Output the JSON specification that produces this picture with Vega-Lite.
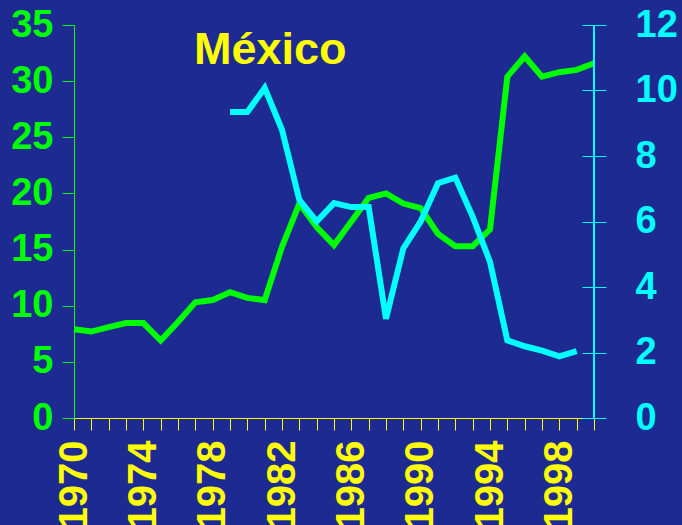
{
  "$schema": "https://vega.github.io/schema/vega-lite/v6.json",
  "width": 520,
  "height": 393,
  "autosize": {"type": "none"},
  "padding": {"left": 74, "top": 25, "right": 88, "bottom": 107},
  "background": "#1d2a92",
  "config": {
    "view": {"stroke": null},
    "font": "Liberation Sans"
  },
  "title": {
    "text": "México",
    "anchor": "start",
    "frame": "group",
    "baseline": "alphabetic",
    "offset": 0,
    "dx": 120,
    "dy": 103,
    "fontSize": 45,
    "fontWeight": "bold",
    "color": "#ffff00",
    "font": "Liberation Sans"
  },
  "data": {
    "values": [
      {"year": 1970, "value1": 7.9, "value2": null},
      {"year": 1971, "value1": 7.7, "value2": null},
      {"year": 1972, "value1": 8.1, "value2": null},
      {"year": 1973, "value1": 8.45, "value2": null},
      {"year": 1974, "value1": 8.45, "value2": null},
      {"year": 1975, "value1": 6.9, "value2": null},
      {"year": 1976, "value1": 8.55, "value2": null},
      {"year": 1977, "value1": 10.3, "value2": null},
      {"year": 1978, "value1": 10.5, "value2": null},
      {"year": 1979, "value1": 11.2, "value2": 9.34},
      {"year": 1980, "value1": 10.7, "value2": 9.34},
      {"year": 1981, "value1": 10.5, "value2": 10.08},
      {"year": 1982, "value1": 15.25, "value2": 8.8},
      {"year": 1983, "value1": 19.1, "value2": 6.66},
      {"year": 1984, "value1": 17.0, "value2": 6.0},
      {"year": 1985, "value1": 15.4, "value2": 6.56},
      {"year": 1986, "value1": 17.5, "value2": 6.44},
      {"year": 1987, "value1": 19.6, "value2": 6.44},
      {"year": 1988, "value1": 20.0, "value2": 3.03},
      {"year": 1989, "value1": 19.1, "value2": 5.18},
      {"year": 1990, "value1": 18.7, "value2": 6.0},
      {"year": 1991, "value1": 16.4, "value2": 7.17},
      {"year": 1992, "value1": 15.3, "value2": 7.34},
      {"year": 1993, "value1": 15.3, "value2": 6.15},
      {"year": 1994, "value1": 16.8, "value2": 4.77},
      {"year": 1995, "value1": 30.4, "value2": 2.37},
      {"year": 1996, "value1": 32.2, "value2": 2.19},
      {"year": 1997, "value1": 30.4, "value2": 2.06},
      {"year": 1998, "value1": 30.8, "value2": 1.88},
      {"year": 1999, "value1": 31.0, "value2": 2.04},
      {"year": 2000, "value1": 31.6, "value2": null}
    ]
  },
  "encoding": {
    "x": {
      "field": "year",
      "type": "quantitative",
      "scale": {"domain": [1970, 2000], "nice": false, "zero": false},
      "axis": {
        "title": null,
        "values": [1970,1971,1972,1973,1974,1975,1976,1977,1978,1979,1980,1981,1982,1983,1984,1985,1986,1987,1988,1989,1990,1991,1992,1993,1994,1995,1996,1997,1998,1999,2000],
        "labelExpr": "(datum.value - 1970) % 4 == 0 && datum.value < 2000 ? datum.value : ''",
        "labelAngle": -90,
        "labelAlign": "right",
        "labelBaseline": "middle",
        "labelPadding": 10,
        "labelFontSize": 40,
        "labelFontWeight": "bold",
        "labelColor": "#ffff00",
        "labelFont": "Liberation Sans",
        "labelOverlap": false,
        "labelBound": false,
        "labelFlush": false,
        "domainColor": "#ffff00",
        "domainWidth": 1,
        "tickColor": "#ffff00",
        "tickSize": 12,
        "tickWidth": 1,
        "grid": false
      }
    }
  },
  "layer": [
    {
      "mark": {"type": "line", "color": "#00ff00", "strokeWidth": 6, "strokeJoin": "miter", "strokeCap": "butt"},
      "encoding": {
        "y": {
          "field": "value1",
          "type": "quantitative",
          "scale": {"domain": [0, 35], "nice": false},
          "axis": {
            "title": null,
            "orient": "left",
            "values": [0, 5, 10, 15, 20, 25, 30, 35],
            "labelFontSize": 38,
            "labelFontWeight": "bold",
            "labelColor": "#00ff00",
            "labelFont": "Liberation Sans",
            "labelPadding": 9,
            "labelOverlap": false,
            "labelBound": false,
            "labelFlush": false,
            "domainColor": "#00ff00",
            "tickColor": "#00ff00",
            "tickSize": 12,
            "grid": false
          }
        }
      }
    },
    {
      "mark": {"type": "line", "color": "#00ffff", "strokeWidth": 6, "strokeJoin": "miter", "strokeCap": "butt"},
      "encoding": {
        "y": {
          "field": "value2",
          "type": "quantitative",
          "scale": {"domain": [0, 12], "nice": false},
          "axis": {
            "title": null,
            "orient": "right",
            "values": [0, 2, 4, 6, 8, 10, 12],
            "offset": -12,
            "labelFontSize": 38,
            "labelFontWeight": "bold",
            "labelColor": "#00ffff",
            "labelFont": "Liberation Sans",
            "labelPadding": 29,
            "labelOverlap": false,
            "labelBound": false,
            "labelFlush": false,
            "domain": false,
            "tickColor": "#00ffff",
            "tickSize": 24,
            "grid": false
          }
        }
      }
    },
    {
      "mark": {"type": "rule", "color": "#00ffff", "strokeWidth": 1},
      "encoding": {
        "x": {"datum": 2000, "type": "quantitative"}
      }
    }
  ],
  "resolve": {"scale": {"y": "independent"}}
}
